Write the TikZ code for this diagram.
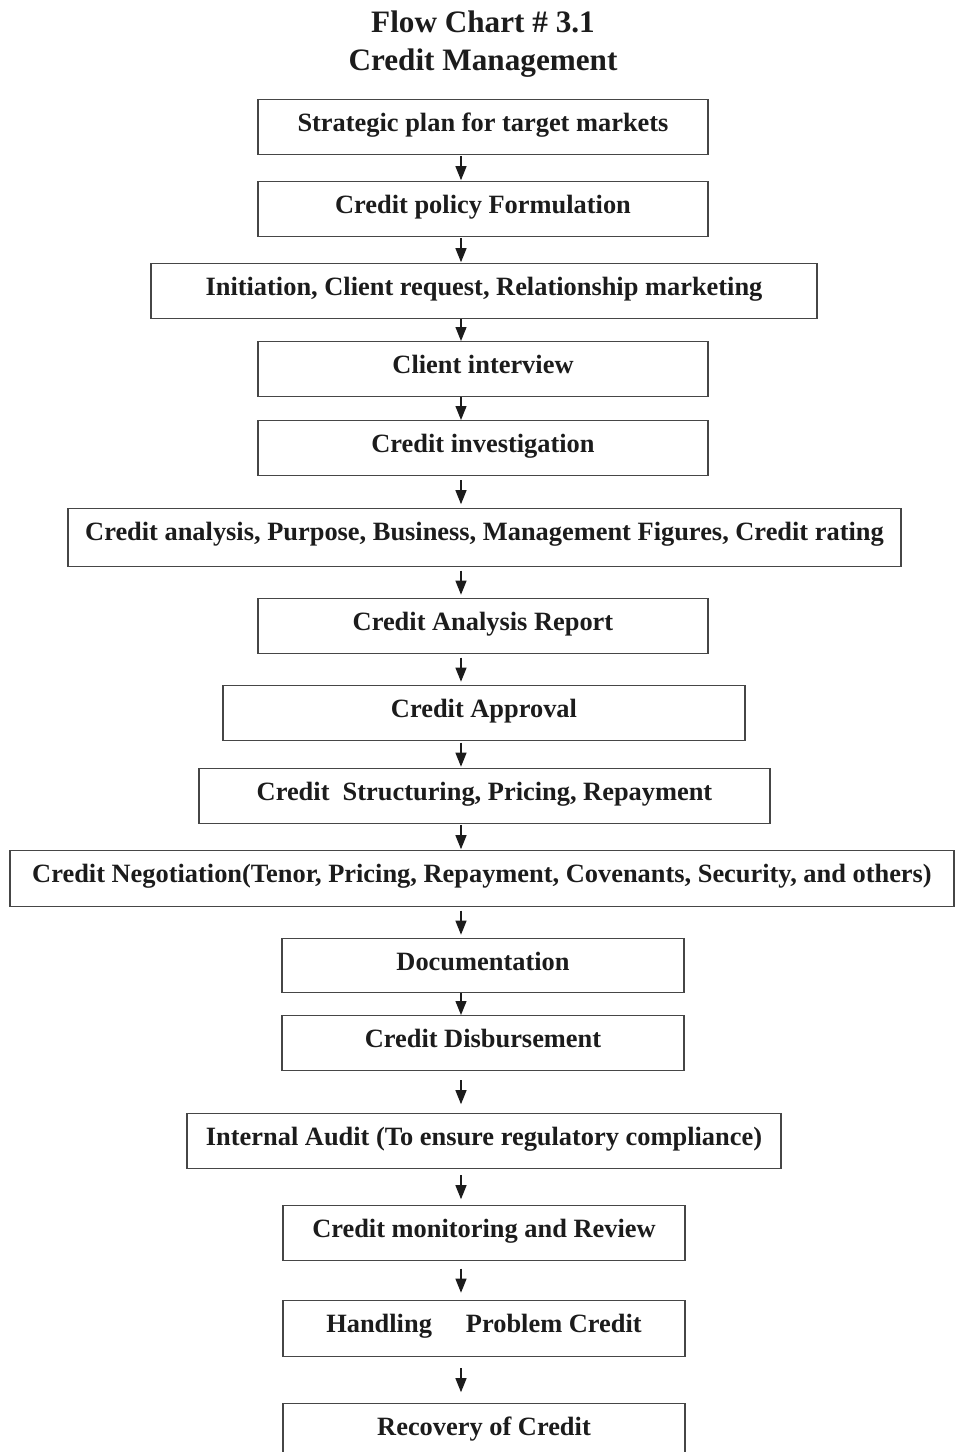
\documentclass[tikz,border=0pt]{standalone}
\usepackage{fontspec}
\setmainfont{Liberation Serif}
\usepackage{tikz}
\usetikzlibrary{arrows.meta,positioning,calc}
\definecolor{boxline}{RGB}{70,70,70}
\definecolor{inkblack}{RGB}{28,28,28}
\tikzset{
  stepbox/.style={draw=boxline,line width=0.7pt,inner sep=0pt,anchor=north,
    text height=16pt,font=\fontsize{13.2}{15}\selectfont\bfseries,text=inkblack},
  flowarr/.style={-{Triangle[length=7pt,width=5.5pt]},line width=0.6pt,draw=inkblack},
  charttitle/.style={font=\fontsize{15.6}{18}\selectfont\bfseries,text=inkblack,anchor=base}
}

\begin{document}
\begin{tikzpicture}[x=0.5pt,y=-0.5pt]
  \useasboundingbox (0,0) rectangle (956,1452);

  \node[charttitle] (title) at (483,32) {Flow Chart \# 3.1};
  \node[charttitle] (subtitle) at (483,70) {Credit Management};

  % boxes: name/centre x/top y/width/text depth/text
  \foreach \n/\x/\y/\w/\d/\t in {
    1/483/99/450/11.5/{Strategic plan for target markets},
    2/483/181/450/11.5/{Credit policy Formulation},
    3/484/263/666/11.5/{Initiation, Client request, Relationship marketing},
    4/483/341/450/11.5/{Client interview},
    5/483/420/450/11.5/{Credit investigation},
    6/484.5/508/833/13/{Credit analysis, Purpose, Business, Management Figures, Credit rating},
    7/483/598/450/11.5/{Credit Analysis Report},
    8/484/685/522/11.5/{Credit Approval},
    9/484.5/768/571/11.5/{Credit\ \ Structuring, Pricing, Repayment},
    10/482/850/944/12/{Credit Negotiation(Tenor, Pricing, Repayment, Covenants, Security, and others)},
    11/483/938/402/11/{Documentation},
    12/483/1015/402/11.5/{Credit Disbursement},
    13/484/1113/594/11.5/{Internal Audit (To ensure regulatory compliance)},
    14/484/1205/402/11.5/{Credit monitoring and Review},
    15/484/1300/402/12/{Handling\hspace{17pt}Problem Credit},
    16/484/1403/402/12/{Recovery of Credit}}{
    \node[stepbox,minimum width=\w*0.5pt,text depth=\d pt] (s\n) at (\x,\y) {\t};
  }

  % all arrows run down one line, at most 12pt long, centred in the gap
  \coordinate (axis) at (461,0);
  \foreach \a [evaluate=\a as \b using int(\a+1)] in {1,...,15}{
    \draw[flowarr] let \p1=(s\a.south), \p2=(s\b.north),
      \n1={max(0pt,(\y1-\y2-12pt)/2)} in
      [shorten <=\n1,shorten >=\n1] (s\a.south -| axis) -- (s\b.north -| axis);
  }
\end{tikzpicture}
\end{document}
